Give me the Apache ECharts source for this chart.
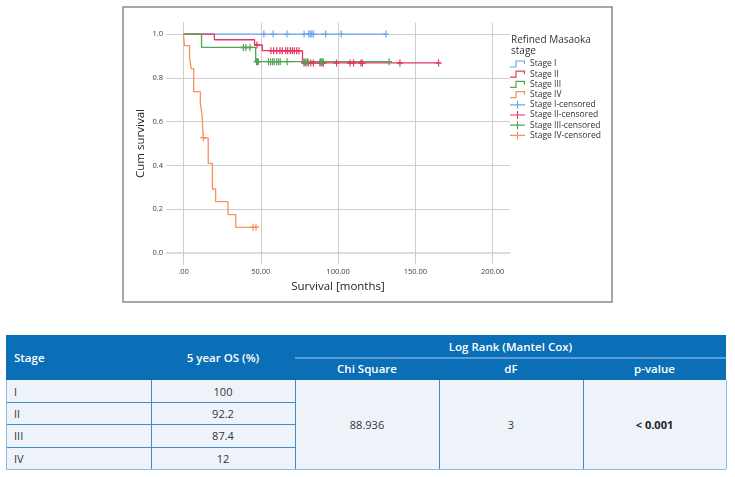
<!DOCTYPE html>
<html><head><meta charset="utf-8">
<script src="https://cdn.jsdelivr.net/npm/echarts@6/dist/echarts.min.js"></script>
<style>
html,body{margin:0;padding:0;background:#fff;}
#chart{position:absolute;left:0;top:0;width:735px;height:310px;}
#tbl{position:absolute;left:0;top:0;width:735px;height:477px;font-family:'Open Sans',sans-serif;}
.b{position:absolute;box-sizing:border-box;}
.t{position:absolute;box-sizing:border-box;display:flex;align-items:center;font-size:11px;color:#333;white-space:nowrap;}
</style></head><body>
<div id="chart"></div><div id="tbl"></div>
<script>
// ---- chart data ----
const xTicks = [0, 50, 100, 150, 200];
const yTicks = [0, 0.2, 0.4, 0.6, 0.8, 1.0];
const stageNames = ['Stage I', 'Stage II', 'Stage III', 'Stage IV'];
const censorSuffix = '-censored';
const legendTitle = 'Refined Masaoka\nstage';
const xAxisName = 'Survival [months]';
const yAxisName = 'Cum survival';

const stage1Times = [0, 131];
const stage1Surv = [1, 1];
const stage1Censored = [52, 58, 67, 78, 81, 82, 83, 84, 92, 102, 131];

const stage2Times = [0, 20, 46, 51, 77, 165];
const stage2Surv = [1, 0.974, 0.95, 0.924, 0.868, 0.868];
const stage2Censored = [47.5, 56.6, 58.3, 60.3, 62.4, 63.9, 66.1, 67.4, 69.1, 70.4, 71.7, 73.2, 74.7,
  78, 79.2, 80.7, 82.3, 84, 88.3, 89.4, 90.5, 99, 107.7, 110, 114.8, 115.7, 140, 165];

const stage3Times = [0, 11.7, 46.7, 133];
const stage3Surv = [1, 0.939, 0.874, 0.874];
const stage3Censored = [38.7, 40.4, 43, 47.2, 47.8, 48.4, 55, 56.4, 57.7, 58.7, 60.3, 61.5, 62.6, 67,
  78, 79.2, 80.3, 88.5, 89.4, 90.2, 133];

const stage4Times = [0, 0.6, 3.9, 5.0, 6.6, 10.9, 12.0, 12.8, 16.0, 18.7, 20.8, 28.8, 33.8, 47];
const stage4Surv = [1, 0.947, 0.895, 0.842, 0.737, 0.684, 0.632, 0.526, 0.409, 0.292, 0.234, 0.175, 0.117, 0.117];
const stage4Censored = [12.9, 45, 46.9];

// ---- table data ----
const tableColHeads = ['Stage', '5 year OS (%)'];
const logRankHead = 'Log Rank (Mantel Cox)';
const logRankCols = ['Chi Square', 'dF', 'p-value'];
const stageRows = ['I', 'II', 'III', 'IV'];
const osValues = ['100', '92.2', '87.4', '12'];
const chiSquare = '88.936';
const dfValue = '3';
const pValue = '< 0.001';

// ---- build chart ----
const colors = ['#6fa6ec', '#e8365f', '#55a255', '#fb8f5e'];
const allTimes = [stage1Times, stage2Times, stage3Times, stage4Times];
const allSurv = [stage1Surv, stage2Surv, stage3Surv, stage4Surv];
const allCens = [stage1Censored, stage2Censored, stage3Censored, stage4Censored];

function survAt(times, surv, t) {
  let s = surv[0];
  for (let i = 0; i < times.length; i++) if (times[i] <= t) s = surv[i];
  return s;
}
const plusPath = 'path://M4,0H6V10H4Z M0,4H10V6H0Z';
const stepIcon = 'path://M0,6.4H6.6V7.6H0Z M5.4,0.4H6.6V7.6H5.4Z M5.4,0.4H15V1.6H5.4Z M13.8,0.4H15V4H13.8Z';
const censIcon = 'path://M0,3.4H15V4.6H0Z M6.9,0H8.1V8H6.9Z';

const series = [];
const legendData = [];
stageNames.forEach((n, i) => {
  const s = {
    name: n, type: 'line', step: 'end', showSymbol: false, symbol: 'none',
    data: allTimes[i].map((t, k) => [t, allSurv[i][k]]),
    lineStyle: { color: colors[i], width: 1.3 },
    itemStyle: { color: colors[i] },
    z: 3, silent: true
  };
  if (i === 0) {
    s.markLine = {
      silent: true, symbol: 'none', z: 1, label: { show: false }, animation: false,
      data: yTicks.map(v => ({ yAxis: v, lineStyle: v === 0 ? { color: '#dcdcdc', width: 2, type: 'solid' } : { color: '#cfcfcf', width: 1, type: 'solid' } }))
        .concat(xTicks.map(v => ({ xAxis: v, lineStyle: { color: '#cfcfcf', width: 1, type: 'solid' } })))
    };
  }
  series.push(s);
  legendData.push({ name: n, icon: stepIcon });
});
stageNames.forEach((n, i) => {
  series.push({
    name: n + censorSuffix, type: 'scatter', symbol: plusPath, symbolSize: [6, 7],
    data: allCens[i].map(t => [t, survAt(allTimes[i], allSurv[i], t)]),
    itemStyle: { color: colors[i], opacity: 1 }, z: 4, silent: true
  });
  legendData.push({ name: n + censorSuffix, icon: censIcon });
});

const chart = echarts.init(document.getElementById('chart'));
chart.setOption({
  animation: false,
  textStyle: { fontFamily: 'Open Sans' },
  grid: { left: 166, top: 22.7, width: 344, height: 241.6 },
  xAxis: {
    type: 'value', min: -11.3, max: 211.2,
    name: xAxisName, nameLocation: 'middle', nameGap: 15,
    nameTextStyle: { fontSize: 11.5, color: '#222' },
    axisLine: { lineStyle: { color: '#b5b5b5', width: 1 } },
    axisTick: { show: false }, splitLine: { show: false },
    axisLabel: { customValues: xTicks, fontSize: 7.5, color: '#444', margin: 4,
      formatter: v => v === 0 ? '.00' : v.toFixed(2) }
  },
  yAxis: {
    type: 'value', min: -0.052, max: 1.052,
    name: yAxisName, nameLocation: 'middle', nameGap: 19,
    nameTextStyle: { fontSize: 11.5, color: '#222' },
    axisLine: { show: true, lineStyle: { color: '#b5b5b5', width: 1 } },
    axisTick: { show: false }, splitLine: { show: false },
    axisLabel: { customValues: yTicks, fontSize: 7.5, color: '#444', margin: 3,
      formatter: v => v.toFixed(1) }
  },
  legend: {
    orient: 'vertical', left: 510, top: 59.5, padding: 0,
    itemWidth: 15, itemHeight: 8, itemGap: 1.2,
    textStyle: { fontSize: 8.5, color: '#333', lineHeight: 9 },
    data: legendData, selectedMode: false
  },
  graphic: [
    { type: 'rect', shape: { x: 123, y: 7, width: 489, height: 295 }, style: { fill: 'none', stroke: '#8a8a8a', lineWidth: 1.5 }, z: -1, silent: true },
    { type: 'text', x: 511, y: 34, style: { text: legendTitle, fontSize: 10, lineHeight: 11.7, fill: '#333', fontFamily: 'Open Sans' }, silent: true }
  ],
  series: series
});

// ---- build table ----
const tbl = document.getElementById('tbl');
const colX = [6, 151, 295, 439, 583, 726];
const headTop = 335, subLine = 357.7, headBottom = 380;
const rowTops = [380, 402.3, 424.7, 447, 469.3];
const headBlue = '#0a6fb6', lineBlue = '#3f8bcc', cellBg = '#eef3fa';
function box(x, y, w, h, bg) {
  const d = document.createElement('div'); d.className = 'b';
  d.style.cssText = `left:${x}px;top:${y}px;width:${w}px;height:${h}px;background:${bg};`;
  tbl.appendChild(d);
}
function txt(s, x, y, w, h, align, opts) {
  const d = document.createElement('div'); d.className = 't';
  d.textContent = s;
  d.style.left = x + 'px'; d.style.top = y + 'px'; d.style.width = w + 'px'; d.style.height = h + 'px';
  d.style.justifyContent = align === 'left' ? 'flex-start' : 'center';
  if (align === 'left') d.style.paddingLeft = '8px';
  if (opts) Object.assign(d.style, opts);
  tbl.appendChild(d);
}
// header
box(colX[0], headTop, colX[5] - colX[0], headBottom - headTop, headBlue);
box(colX[2], subLine - 1, colX[5] - colX[2], 2, '#5a9fd8');
// body
box(colX[0], headBottom, colX[5] - colX[0], rowTops[4] - headBottom, cellBg);
for (let i = 1; i <= 3; i++) box(colX[0], rowTops[i] - 0.5, colX[2] - colX[0], 1, lineBlue);
for (let c = 1; c <= 4; c++) box(colX[c] - 0.5, headBottom, 1, rowTops[4] - headBottom, lineBlue);
box(colX[0], rowTops[4] - 0.5, colX[5] - colX[0], 1.5, '#8dbde6');
box(colX[0] - 0.5, headBottom, 1, rowTops[4] - headBottom, '#8dbde6');
box(colX[5] - 0.5, headBottom, 1, rowTops[4] - headBottom, '#8dbde6');

const hw = { color: '#fff', fontWeight: '600', fontSize: '11.5px' };
txt(tableColHeads[0], colX[0], headTop, colX[1] - colX[0], headBottom - headTop, 'left', hw);
txt(tableColHeads[1], colX[1], headTop, colX[2] - colX[1], headBottom - headTop, 'center', hw);
txt(logRankHead, colX[2], headTop, colX[5] - colX[2], subLine - headTop, 'center', hw);
logRankCols.forEach((s, i) => txt(s, colX[2 + i], subLine, colX[3 + i] - colX[2 + i], headBottom - subLine, 'center', hw));
stageRows.forEach((s, i) => {
  txt(s, colX[0], rowTops[i], colX[1] - colX[0], rowTops[i + 1] - rowTops[i], 'left');
  txt(osValues[i], colX[1], rowTops[i], colX[2] - colX[1], rowTops[i + 1] - rowTops[i], 'center');
});
txt(chiSquare, colX[2], headBottom, colX[3] - colX[2], rowTops[4] - headBottom, 'center');
txt(dfValue, colX[3], headBottom, colX[4] - colX[3], rowTops[4] - headBottom, 'center');
txt(pValue, colX[4], headBottom, colX[5] - colX[4], rowTops[4] - headBottom, 'center', { fontWeight: '700', color: '#222' });
</script>
</body></html>
